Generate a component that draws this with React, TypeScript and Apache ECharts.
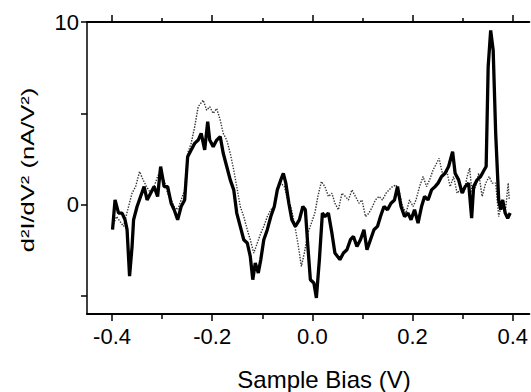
import React, { useEffect, useRef } from "react";
import * as echarts from "echarts";

// Solid (thick) curve
const solidX = [-0.399,-0.394,-0.387,-0.380,-0.374,-0.370,-0.365,-0.360,-0.357,-0.350,-0.343,-0.336,-0.330,-0.323,-0.316,-0.309,-0.303,-0.296,-0.289,-0.282,-0.276,-0.269,-0.262,-0.255,-0.249,-0.242,-0.235,-0.228,-0.222,-0.215,-0.209,-0.205,-0.198,-0.191,-0.184,-0.178,-0.171,-0.164,-0.157,-0.151,-0.144,-0.137,-0.130,-0.124,-0.119,-0.114,-0.108,-0.103,-0.097,-0.090,-0.083,-0.076,-0.070,-0.063,-0.058,-0.053,-0.047,-0.041,-0.034,-0.026,-0.019,-0.014,-0.009,-0.004,0.003,0.008,0.014,0.020,0.025,0.032,0.039,0.045,0.055,0.062,0.069,0.076,0.082,0.089,0.096,0.103,0.109,0.116,0.123,0.130,0.136,0.143,0.150,0.157,0.164,0.170,0.177,0.184,0.191,0.197,0.204,0.211,0.218,0.224,0.231,0.238,0.245,0.251,0.258,0.265,0.272,0.280,0.285,0.292,0.299,0.305,0.312,0.318,0.322,0.329,0.336,0.343,0.347,0.351,0.356,0.361,0.366,0.372,0.376,0.380,0.385,0.390,0.395];
const solidY = [-1.38,0.25,-0.47,-0.47,-0.84,-1.38,-3.93,-2.30,-0.84,-0.11,0.44,0.98,0.25,0.62,0.98,0.44,2.08,0.98,0.98,0.07,-0.29,-0.84,-0.11,0.25,2.62,2.99,3.35,3.53,3.90,2.99,4.54,3.53,3.17,3.53,3.72,2.81,2.08,1.35,0.80,-0.47,-1.20,-1.93,-2.11,-2.84,-4.12,-3.21,-3.75,-3.02,-1.93,-1.38,-0.66,-0.11,0.80,1.35,1.71,1.17,0.07,-0.84,-1.20,-0.84,-0.11,-0.29,-2.30,-4.12,-4.30,-5.12,-3.02,-0.47,-0.66,-0.47,-1.57,-2.66,-3.02,-2.66,-2.48,-1.93,-1.75,-2.30,-1.93,-1.38,-2.48,-1.93,-1.38,-1.20,-0.66,-0.11,-0.29,0.07,0.25,0.98,-0.11,-0.66,-0.47,-0.84,-0.29,-1.02,-0.11,0.44,0.25,0.80,0.98,1.17,1.53,1.71,2.08,2.90,1.71,1.35,0.62,0.98,1.17,-0.75,0.98,1.35,1.53,1.89,2.08,7.54,9.54,8.45,3.90,0.25,-0.29,0.25,-0.47,-0.75,-0.47];

// Dotted (thin) curve
const dottedX = [-0.399,-0.391,-0.377,-0.367,-0.360,-0.353,-0.345,-0.338,-0.331,-0.323,-0.316,-0.309,-0.303,-0.296,-0.289,-0.282,-0.276,-0.269,-0.262,-0.255,-0.249,-0.242,-0.235,-0.228,-0.218,-0.211,-0.205,-0.198,-0.191,-0.184,-0.178,-0.171,-0.164,-0.157,-0.151,-0.144,-0.137,-0.130,-0.124,-0.117,-0.110,-0.103,-0.097,-0.090,-0.083,-0.076,-0.070,-0.063,-0.056,-0.049,-0.043,-0.036,-0.029,-0.022,-0.016,-0.009,-0.002,0.005,0.011,0.018,0.025,0.032,0.039,0.045,0.052,0.059,0.066,0.072,0.079,0.086,0.093,0.099,0.106,0.113,0.120,0.126,0.133,0.140,0.147,0.153,0.160,0.167,0.174,0.180,0.187,0.194,0.201,0.207,0.214,0.221,0.228,0.234,0.241,0.248,0.253,0.261,0.268,0.275,0.282,0.289,0.295,0.302,0.309,0.314,0.319,0.326,0.332,0.339,0.346,0.353,0.359,0.366,0.372,0.380,0.385,0.391,0.393];
const dottedY = [-1.20,-0.66,-1.20,-0.11,0.62,0.98,1.80,1.35,0.98,0.62,0.98,1.53,1.89,1.35,0.62,0.25,-0.11,-0.29,0.25,0.80,2.81,3.35,4.26,5.36,5.72,5.17,5.36,4.99,5.26,4.63,3.90,3.53,2.81,1.89,0.98,-0.11,-0.66,-1.38,-1.93,-2.66,-2.11,-1.57,-1.20,-0.66,-0.29,-0.11,0.80,1.17,0.98,0.25,-0.11,-1.02,-2.11,-3.39,-2.66,-1.57,-1.02,-0.47,0.44,1.26,0.98,0.44,0.62,0.07,-0.29,0.62,0.44,0.25,0.80,0.44,0.07,0.25,-0.66,-0.47,-0.11,0.25,0.44,0.25,0.62,0.80,0.98,1.07,0.62,-0.11,-0.47,0.25,-0.11,0.25,0.98,1.53,0.98,1.35,1.89,2.26,2.53,1.53,1.89,0.98,1.53,0.62,0.80,0.62,1.53,1.99,0.62,0.98,1.71,0.44,1.17,1.53,1.17,1.17,-0.66,0.25,-0.47,1.17,0.25];

const xMajorTicks = [-0.4, -0.2, 0, 0.2, 0.4];
const xMinorTicks = [-0.3, -0.1, 0.1, 0.3];
const xLabels = [-0.4, -0.2, 0, 0.2, 0.4];
const yTicks = [-5, 0, 5, 10];
const yLabels = [0, 10];

const FONT = "'Liberation Sans', Arial, Helvetica, sans-serif";

export default function App() {
  const ref = useRef<HTMLDivElement>(null);
  useEffect(() => {
    document.body.style.margin = "0";
    if (!ref.current) return;
    const chart = echarts.init(ref.current, null, { renderer: "svg" });
    const solidData = solidX.map((x, i) => [x, solidY[i]]);
    const dottedData = dottedX.map((x, i) => [x, dottedY[i]]);
    const xMin = -0.45;
    const xMax = 0.4332;
    const baseX = {
      type: "value",
      min: xMin,
      max: xMax,
      splitLine: { show: false },
    };
    chart.setOption({
      animation: false,
      backgroundColor: "#fff",
      grid: { left: 87, right: 0, top: 22, bottom: 78, containLabel: false },
      xAxis: [
        {
          ...baseX,
          position: "bottom",
          axisLine: { show: true, onZero: false, lineStyle: { color: "#000", width: 2 } },
          axisTick: { show: true, customValues: xMajorTicks, length: 7, lineStyle: { color: "#000", width: 1.5 } },
          axisLabel: {
            show: true,
            customValues: xLabels,
            formatter: (v: number) => v.toFixed(1),
            fontSize: 22,
            color: "#000",
            fontFamily: FONT,
            margin: 11,
          },
        },
        {
          ...baseX,
          position: "bottom",
          axisLine: { show: false, onZero: false },
          axisTick: { show: true, customValues: xMinorTicks, length: 5, lineStyle: { color: "#000", width: 1.5 } },
          axisLabel: { show: false },
        },
        {
          ...baseX,
          position: "top",
          axisLine: { show: true, onZero: false, lineStyle: { color: "#000", width: 2 } },
          axisTick: { show: true, customValues: xMajorTicks, length: 7, lineStyle: { color: "#000", width: 1.5 } },
          axisLabel: { show: false },
        },
        {
          ...baseX,
          position: "top",
          axisLine: { show: false, onZero: false },
          axisTick: { show: true, customValues: xMinorTicks, length: 4, lineStyle: { color: "#000", width: 1.5 } },
          axisLabel: { show: false },
        },
      ],
      yAxis: {
        type: "value",
        min: -6,
        max: 10,
        splitLine: { show: false },
        axisLine: { show: true, onZero: false, lineStyle: { color: "#000", width: 1.5 } },
        axisTick: { show: true, customValues: yTicks, length: 6, lineStyle: { color: "#000", width: 1.5 } },
        axisLabel: {
          show: true,
          customValues: yLabels,
          formatter: (v: number) => String(v),
          fontSize: 22,
          color: "#000",
          fontFamily: FONT,
          margin: 8,
        },
      },
      series: [
        {
          type: "line",
          xAxisIndex: 0,
          data: dottedData,
          showSymbol: false,
          lineStyle: { color: "#333", width: 1.4, type: "dotted" },
          z: 2,
        },
        {
          type: "line",
          xAxisIndex: 0,
          data: solidData,
          showSymbol: false,
          lineStyle: { color: "#000", width: 3.3 },
          z: 3,
        },
      ],
      graphic: [
        {
          type: "text",
          x: 324,
          y: 379,
          style: {
            text: "Sample Bias (V)",
            fontSize: 24,
            fontFamily: FONT,
            fill: "#000",
            align: "center",
            verticalAlign: "middle",
          },
        },
        {
          type: "text",
          x: 28,
          y: 170,
          rotation: Math.PI / 2,
          scaleX: 1.42,
          scaleY: 1,
          style: {
            text: "d²I/dV² (nA/V²)",
            fontSize: 18,
            fontFamily: FONT,
            fill: "#000",
            align: "center",
            verticalAlign: "middle",
          },
        },
      ],
    });
    return () => chart.dispose();
  }, []);
  return (
    <div
      ref={ref}
      style={{ width: 531, height: 392, position: "fixed", left: 0, top: 0, background: "#fff" }}
    />
  );
}
